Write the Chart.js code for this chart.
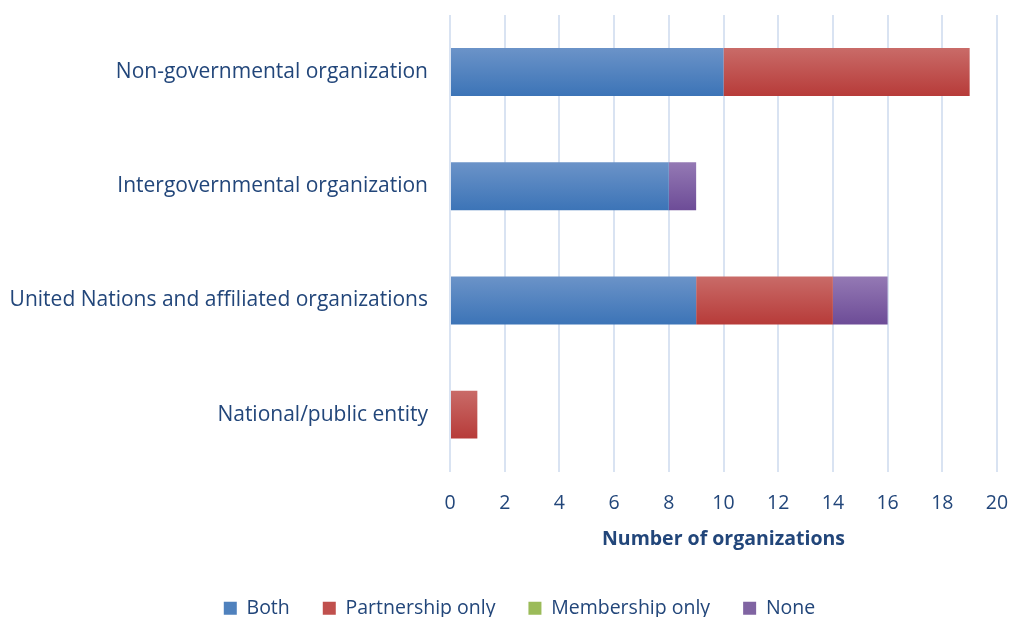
<!DOCTYPE html>
<html>
<head>
<meta charset="utf-8">
<script src="https://cdn.jsdelivr.net/npm/chart.js@4/dist/chart.umd.min.js"></script>
<style>
  html, body { margin: 0; padding: 0; background: #fff; overflow: hidden; }
  #wrap { width: 1013px; height: 628px; }
</style>
</head>
<body>
<div id="wrap"><canvas id="orgChart"></canvas></div>
<script>
// data
const categories = [
  "Non-governmental organization",
  "Intergovernmental organization",
  "United Nations and affiliated organizations",
  "National/public entity",
];
const both = [10, 8, 9, 0];
const partnershipOnly = [9, 0, 5, 1];
const membershipOnly = [0, 0, 0, 0];
const none = [0, 1, 2, 0];

const textColor = "#22467a";
const fontFamily = "'Open Sans'";
const barPct = 0.42;

// vertical gradient on each bar (light top, darker bottom)
function barGradient(top, bottom, flat) {
  return (c) => {
    const chart = c.chart;
    const y = chart.scales && chart.scales.y;
    if (!chart.chartArea || !y || c.dataIndex === undefined) return flat;
    const rowH = (y.bottom - y.top) / categories.length;
    const center = y.getPixelForValue(c.dataIndex);
    const h = rowH * barPct;
    const g = chart.ctx.createLinearGradient(0, center - h / 2, 0, center + h / 2);
    g.addColorStop(0, top);
    g.addColorStop(1, bottom);
    return g;
  };
}

// the original legend sits a little right of centre
const legendShift = {
  id: "legend_shift",
  afterLayout: (chart) => {
    if (!chart.legend) return;
    chart.legend.left += 16;
    chart.legend.right += 16;
  },
};

const data = {
  labels: categories,
  datasets: [
    {
      label: "Both",
      data: both,
      backgroundColor: barGradient("#6b93c8", "#3c74b7", "#4f81bd"),
    },
    {
      label: "Partnership only",
      data: partnershipOnly,
      backgroundColor: barGradient("#c96b68", "#b73b39", "#c0504d"),
    },
    {
      label: "Membership only",
      data: membershipOnly,
      backgroundColor: barGradient("#aac46f", "#8bac46", "#9bbb59"),
    },
    {
      label: "None",
      data: none,
      backgroundColor: barGradient("#9479b4", "#6d4c97", "#8064a2"),
    },
  ],
};

const config = {
  type: "bar",
  data,
  plugins: [legendShift],
  options: {
    indexAxis: "y",
    responsive: true,
    maintainAspectRatio: false,
    animation: false,
    layout: {
      padding: { top: 15, left: 10, right: 16, bottom: 0 },
    },
    datasets: {
      bar: {
        barPercentage: barPct,
        categoryPercentage: 1,
        borderWidth: 0,
      },
    },
    plugins: {
      tooltip: { enabled: false },
      legend: {
        position: "bottom",
        labels: {
          color: textColor,
          font: { family: fontFamily, size: 19.5 },
          boxWidth: 13,
          boxHeight: 13,
          padding: 33,
          generateLabels: (chart) =>
            chart.data.datasets.map((ds, i) => ({
              text: ds.label,
              fillStyle: ["#4f81bd", "#c0504d", "#9bbb59", "#8064a2"][i],
              strokeStyle: "transparent",
              lineWidth: 0,
              fontColor: textColor,
              datasetIndex: i,
            })),
        },
      },
    },
    scales: {
      x: {
        stacked: true,
        min: 0,
        max: 20,
        ticks: {
          stepSize: 2,
          color: textColor,
          font: { family: fontFamily, size: 19.5 },
          padding: 0,
        },
        grid: {
          color: "#d9e3f2",
          lineWidth: 2,
          drawTicks: true,
          tickLength: 20,
          tickColor: "transparent",
        },
        border: { display: false },
        title: {
          display: true,
          text: "Number of organizations",
          color: textColor,
          font: { family: fontFamily, size: 19.5, weight: "bold" },
          padding: { top: 13, bottom: 14 },
        },
      },
      y: {
        stacked: true,
        ticks: {
          color: textColor,
          font: { family: fontFamily, size: 21 },
          padding: 0,
        },
        grid: {
          display: true,
          drawOnChartArea: false,
          drawTicks: true,
          tickLength: 22,
          tickColor: "transparent",
        },
        border: { display: false },
        afterFit: (scale) => {
          scale.width = 440;
        },
      },
    },
  },
};

const orgChart = new Chart(document.getElementById("orgChart"), config);
</script>
</body>
</html>
